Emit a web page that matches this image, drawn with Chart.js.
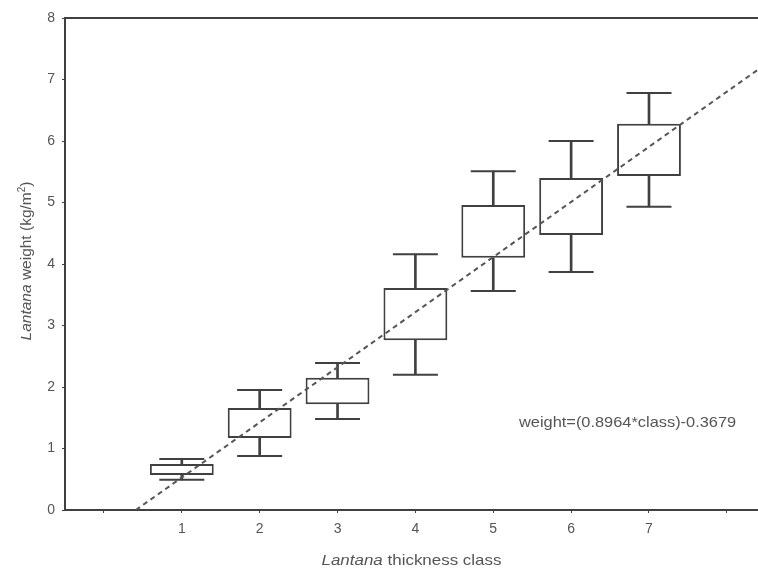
<!DOCTYPE html>
<html lang="en">
  <head>
    <meta charset="UTF-8" />
    <title>Lantana weight by thickness class</title>
    <style>
      * {
        margin: 0;
        padding: 0;
        box-sizing: border-box;
      }
      body {
        background: white;
      }
      .chartBox {
        width: 758px;
        height: 572px;
      }
    </style>
  </head>
  <body>
    <div class="chartBox">
      <canvas id="myChart" width="758" height="572"></canvas>
    </div>

    <script src="https://cdn.jsdelivr.net/npm/chart.js"></script>

    <script>
      // values
      const classes = [1, 2, 3, 4, 5, 6, 7];
      const whiskerHigh = [0.83, 1.95, 2.39, 4.16, 5.51, 6.0, 6.78];
      const boxTop = [0.75, 1.66, 2.15, 3.61, 4.96, 5.4, 6.28];
      const boxBottom = [0.57, 1.17, 1.72, 2.76, 4.1, 4.47, 5.43];
      const whiskerLow = [0.49, 0.88, 1.48, 2.2, 3.56, 3.87, 4.93];
      const fitX = [0.41, 8.4];
      const fitY = [0, 7.16];
      const equation = "weight=(0.8964*class)-0.3679";

      const ink = "#404040";
      const textColor = "#555";

      const ctx = document.getElementById("myChart");

      const pairs = (a, b) => classes.map((c, i) => ({ x: c, y: [a[i], b[i]] }));
      const points = (arr) => classes.map((c, i) => ({ x: c, y: arr[i] }));

      const data = {
        datasets: [
          {
            type: "line",
            label: "fit",
            data: fitX.map((x, i) => ({ x: x, y: fitY[i] })),
            borderColor: "#555",
            borderWidth: 2,
            borderDash: [5, 4],
            pointRadius: 0,
            order: 0,
          },
          {
            type: "bar",
            label: "box",
            data: pairs(boxBottom, boxTop),
            backgroundColor: "white",
            borderColor: ink,
            borderWidth: 2,
            borderSkipped: false,
            grouped: false,
            categoryPercentage: 1,
            barPercentage: 0.82,
            order: 1,
          },
          {
            type: "bar",
            label: "upper whisker",
            data: pairs(boxTop, whiskerHigh),
            backgroundColor: ink,
            borderWidth: 0,
            grouped: false,
            barThickness: 2,
            order: 2,
          },
          {
            type: "bar",
            label: "lower whisker",
            data: pairs(whiskerLow, boxBottom),
            backgroundColor: ink,
            borderWidth: 0,
            grouped: false,
            barThickness: 2,
            order: 2,
          },
          {
            type: "line",
            label: "caps",
            data: points(whiskerHigh).concat(points(whiskerLow)),
            showLine: false,
            pointStyle: "line",
            pointRadius: 22.5,
            pointBorderWidth: 2,
            pointBorderColor: ink,
            order: 1,
          },
        ],
      };

      // axis titles and equation, with the mixed italic text
      const textLayer = {
        id: "textLayer",
        afterDraw(chart) {
          const { ctx, chartArea, scales } = chart;
          const stretch = 1.13;
          ctx.save();
          ctx.fillStyle = textColor;
          ctx.textBaseline = "middle";
          ctx.textAlign = "left";

          const drawParts = (parts) => {
            let w = 0;
            parts.forEach((p) => {
              ctx.font = p.font;
              w += ctx.measureText(p.text).width;
            });
            let x = -w / 2;
            parts.forEach((p) => {
              ctx.font = p.font;
              ctx.fillText(p.text, x, p.dy || 0);
              x += ctx.measureText(p.text).width;
            });
          };

          // x title
          ctx.save();
          ctx.translate((chartArea.left + chartArea.right) / 2, 561);
          ctx.scale(stretch, 1);
          drawParts([
            { text: "Lantana", font: "italic 15px 'Liberation Sans'" },
            { text: " thickness class", font: "15px 'Liberation Sans'" },
          ]);
          ctx.restore();

          // y title
          ctx.save();
          ctx.translate(27, (chartArea.top + chartArea.bottom) / 2 - 3);
          ctx.rotate(-Math.PI / 2);
          drawParts([
            { text: "Lantana", font: "italic 15.5px 'Liberation Sans'" },
            { text: " weight (kg/m", font: "15.5px 'Liberation Sans'" },
            { text: "2", font: "10px 'Liberation Sans'", dy: -5 },
            { text: ")", font: "15.5px 'Liberation Sans'" },
          ]);
          ctx.restore();

          // regression equation
          ctx.save();
          ctx.translate(scales.x.getPixelForValue(5.33), scales.y.getPixelForValue(1.41));
          ctx.scale(stretch, 1);
          ctx.font = "14.5px 'Liberation Sans'";
          ctx.fillText(equation, 0, 0);
          ctx.restore();

          ctx.restore();
        },
      };

      const tickFont = { family: "'Liberation Sans'", size: 14 };

      const config = {
        type: "scatter",
        data: data,
        options: {
          responsive: false,
          animation: false,
          events: [],
          layout: {
            autoPadding: false,
            padding: { top: 18, right: 0, left: 0, bottom: 0 },
          },
          plugins: {
            legend: { display: false },
            tooltip: { enabled: false },
          },
          scales: {
            x: {
              type: "linear",
              min: -0.5,
              max: 8.4,
              offset: false,
              grid: {
                offset: false,
                drawOnChartArea: false,
                tickLength: 3,
                color: ink,
              },
              border: { color: ink, width: 2 },
              ticks: {
                stepSize: 1,
                includeBounds: false,
                padding: 8,
                color: textColor,
                font: tickFont,
                callback: (v) => (classes.includes(v) ? String(v) : ""),
              },
              afterFit: (s) => {
                s.height = 62;
                s.paddingLeft = 0;
                s.paddingRight = 0;
              },
            },
            x2: {
              type: "linear",
              position: "top",
              min: -0.5,
              max: 8.4,
              grid: { display: false },
              ticks: { display: false },
              border: { color: ink, width: 2 },
              afterFit: (s) => {
                s.height = 0;
              },
            },
            y: {
              min: 0,
              max: 8,
              grid: {
                drawOnChartArea: false,
                tickLength: 3,
                color: ink,
              },
              border: { color: ink, width: 2 },
              ticks: {
                stepSize: 1,
                padding: 7,
                color: textColor,
                font: tickFont,
              },
              afterFit: (s) => {
                s.width = 65;
                s.paddingTop = 0;
                s.paddingBottom = 0;
              },
            },
          },
        },
        plugins: [textLayer],
      };

      const myChart = new Chart(ctx, config);
    </script>
  </body>
</html>
